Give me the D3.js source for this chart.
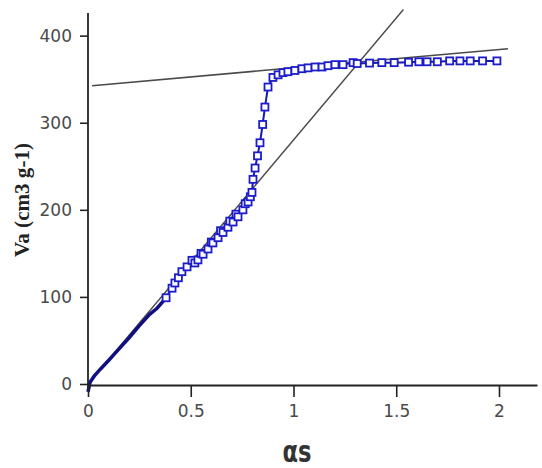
<!DOCTYPE html>
<html><head><meta charset="utf-8">
<script src="https://cdn.jsdelivr.net/npm/d3@7/dist/d3.min.js"></script>
<style>html,body{margin:0;padding:0;background:#fff;}svg{display:block;}</style>
</head><body>
<svg id="c" width="542" height="468"></svg>
<script>
// ---- data ----
const xTicks = [0, 0.5, 1, 1.5, 2];
const xTickLabels = ["0", "0.5", "1", "1.5", "2"];
const yTicks = [0, 100, 200, 300, 400];
const yTickLabels = ["0", "100", "200", "300", "400"];
const xTitle = "αs";
const yTitle = "Va (cm3 g-1)";

// dense low-pressure part (seen as a thick line)
const lowAlpha = [0, 0.01, 0.03, 0.06, 0.1, 0.15, 0.2, 0.25, 0.3, 0.336];
const lowVa    = [-9, 2, 9, 17, 27, 40, 53, 67, 80, 87];

// points drawn with square markers
const alpha = [0.38, 0.409, 0.423, 0.44, 0.457, 0.482, 0.506, 0.52, 0.535, 0.55, 0.56, 0.584, 0.6, 0.608, 0.633, 0.645, 0.657, 0.681, 0.69, 0.706, 0.72, 0.73, 0.754, 0.765, 0.779, 0.79, 0.798, 0.803, 0.813, 0.825, 0.837, 0.85, 0.861, 0.876, 0.9, 0.925, 0.949, 0.973, 1.007, 1.041, 1.071, 1.105, 1.139, 1.168, 1.202, 1.241, 1.29, 1.31, 1.37, 1.43, 1.49, 1.56, 1.61, 1.65, 1.7, 1.76, 1.81, 1.86, 1.92, 1.99];
const va    = [99, 110, 116, 122, 129, 134.5, 142, 139, 142.5, 150, 149, 155, 163, 162, 168, 176, 174, 180, 187, 186, 195, 192, 200, 207, 209, 215, 220, 235, 248, 262, 277, 298, 318, 341, 352, 355, 357.5, 358.6, 360, 362, 363, 364, 364, 365.5, 366.7, 366.7, 369, 368, 368.5, 369, 369, 369.5, 370, 370, 370, 371, 371, 371, 371, 371];

// fitted straight lines [x0,y0,x1,y1]
const plateauLineX = [0.02, 2.044];
const plateauLineY = [342.5, 385];
const steepLineX = [0, 1.535];
const steepLineY = [0, 430];

// ---- drawing ----
const svg = d3.select("#c");
const x = d3.scaleLinear().domain([0, 2.185]).range([88, 537]);
const y = d3.scaleLinear().domain([0, 426]).range([384, 13]);

const fontTick = "DejaVu Sans, sans-serif";

// fitted lines
const line = d3.line().x(d => x(d[0])).y(d => y(d[1]));
svg.append("path").attr("d", line(d3.zip(plateauLineX, plateauLineY)))
  .attr("fill", "none").attr("stroke", "#4a4a4a").attr("stroke-width", 1.6);
svg.append("path").attr("d", line(d3.zip(steepLineX, steepLineY)))
  .attr("fill", "none").attr("stroke", "#4a4a4a").attr("stroke-width", 1.4);

// data line
const lowPts = d3.zip(lowAlpha, lowVa);
const pts = d3.zip(alpha, va);
svg.append("path").attr("d", line(lowPts.concat([pts[0]])))
  .attr("fill", "none").attr("stroke", "#101080").attr("stroke-width", 3.5);
svg.append("path").attr("d", line(pts))
  .attr("fill", "none").attr("stroke", "#1818b0").attr("stroke-width", 2);

// markers
const s = 7;
svg.append("g").selectAll("rect").data(pts).join("rect")
  .attr("x", d => x(d[0]) - s/2).attr("y", d => y(d[1]) - s/2)
  .attr("width", s).attr("height", s)
  .attr("fill", "#fff").attr("stroke", "#1c1cc8").attr("stroke-width", 1.8);

// axes
const xAxis = d3.axisBottom(x).tickValues(xTicks).tickFormat((d,i) => xTickLabels[i])
  .tickSize(12).tickSizeOuter(0).tickPadding(8);
const gx = svg.append("g").attr("transform", `translate(0,${y(0)+1})`).call(xAxis);
const yAxis = d3.axisLeft(y).tickValues(yTicks).tickFormat((d,i) => yTickLabels[i])
  .tickSize(8).tickSizeOuter(0).tickPadding(8);
const gy = svg.append("g").attr("transform", `translate(${x(0)},0)`).call(yAxis);
[gx, gy].forEach(g => {
  g.select(".domain").attr("stroke", "#222").attr("stroke-width", 1.8);
  g.selectAll(".tick line").attr("stroke", "#222").attr("stroke-width", 1.6);
  g.selectAll(".tick text").attr("fill", "#4a4a4a").style("font-family", fontTick).style("font-size", "17px");
});
gy.select(".domain").attr("d", `M0,${y(0)+4}V13`);

// titles
svg.append("text").attr("transform", "translate(29,200) rotate(-90)")
  .attr("text-anchor", "middle").attr("fill", "#222")
  .style("font-family", "Liberation Serif, serif").style("font-weight", "bold").style("font-size", "20px")
  .attr("textLength", 114).attr("lengthAdjust", "spacingAndGlyphs")
  .text(yTitle);
svg.append("text").attr("x", 297).attr("y", 462)
  .attr("text-anchor", "middle").attr("fill", "#333")
  .style("font-family", "DejaVu Sans, sans-serif").style("font-weight", "bold").style("font-size", "30px")
  .attr("textLength", 29).attr("lengthAdjust", "spacingAndGlyphs")
  .text(xTitle);
</script>
</body></html>
